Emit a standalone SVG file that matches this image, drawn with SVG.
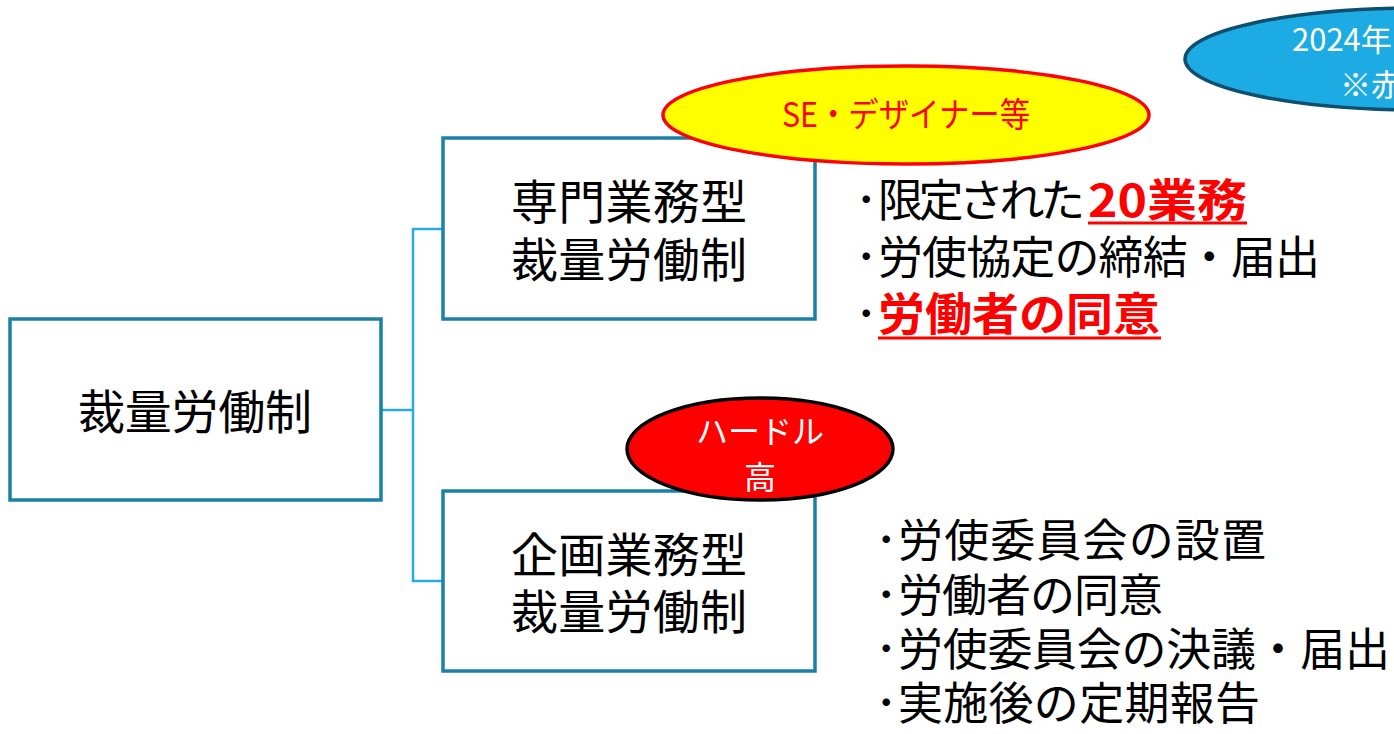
<svg xmlns="http://www.w3.org/2000/svg" width="1394" height="734" viewBox="0 0 1394 734">
<style>
.box{fill:#fff;stroke:#1B80A8;stroke-width:3.5}
.conn{fill:none;stroke:#29ABE2;stroke-width:2.5}
.t{font-family:"Noto Sans CJK JP","Noto Sans",sans-serif;fill:#000}
.bt{font-size:47px;text-anchor:middle}
.li{font-size:45px}
.hi{fill:#FF0000;font-weight:bold}
</style>
<rect width="1394" height="734" fill="#fff"/>
<g id="connectors">
<path class="conn" d="M381 410H413M443 229H413V581H443"/>
</g>
<g id="root">
<rect class="box" x="10" y="319" width="371" height="181"/>
<text class="t bt" x="195" y="429" textLength="234" lengthAdjust="spacing">裁量労働制</text>
</g>
<g id="senmon">
<rect class="box" x="443" y="138" width="372" height="181"/>
<text class="t bt" x="629" y="219" textLength="236" lengthAdjust="spacing">専門業務型</text>
<text class="t bt" x="629" y="277" textLength="236" lengthAdjust="spacing">裁量労働制</text>
</g>
<g id="kikaku">
<rect class="box" x="443" y="491" width="372" height="180"/>
<text class="t bt" x="629" y="572" textLength="236" lengthAdjust="spacing">企画業務型</text>
<text class="t bt" x="629" y="629" textLength="236" lengthAdjust="spacing">裁量労働制</text>
</g>
<g id="se-label">
<ellipse cx="906" cy="115" rx="243" ry="49" fill="#FFFF00" stroke="#FF0000" stroke-width="3.5"/>
<text class="t" x="906" y="127" font-size="34" text-anchor="middle" textLength="248" lengthAdjust="spacingAndGlyphs" style="fill:#FF0000">SE・デザイナー等</text>
</g>
<g id="hurdle-label">
<ellipse cx="760" cy="449" rx="133" ry="51" fill="#FF0000" stroke="#000" stroke-width="3.5"/>
<text class="t" x="760" y="443" font-size="32" text-anchor="middle" style="fill:#fff">ハードル</text>
<text class="t" x="760" y="489" font-size="32" text-anchor="middle" style="fill:#fff">高</text>
</g>
<g id="note-label">
<ellipse cx="1420" cy="59" rx="235" ry="51" fill="#1CACE3" stroke="#0E4E6E" stroke-width="3.5"/>
<text class="t" x="1292" y="51" font-size="31" style="fill:#fff">2024年</text>
<text class="t" x="1340" y="96" font-size="31" style="fill:#fff">※赤</text>
</g>
<g id="senmon-points">
<text class="t li" y="217"><tspan x="855">･</tspan><tspan x="878" textLength="207" lengthAdjust="spacing">限定された</tspan><tspan class="hi" x="1088" textLength="159" lengthAdjust="spacingAndGlyphs">20業務</tspan></text>
<line x1="1088" y1="223" x2="1247" y2="223" stroke="#FF0000" stroke-width="3"/>
<text class="t li" y="274"><tspan x="855">･</tspan><tspan x="878" textLength="442" lengthAdjust="spacing">労使協定の締結・届出</tspan></text>
<text class="t li" y="331"><tspan x="855">･</tspan><tspan class="hi" x="878" textLength="282" lengthAdjust="spacingAndGlyphs">労働者の同意</tspan></text>
<line x1="878" y1="338" x2="1161" y2="338" stroke="#FF0000" stroke-width="3"/>
</g>
<g id="kikaku-points">
<text class="t li" y="557"><tspan x="875">･</tspan><tspan x="898" textLength="368" lengthAdjust="spacing">労使委員会の設置</tspan></text>
<text class="t li" y="612"><tspan x="875">･</tspan><tspan x="898" textLength="265" lengthAdjust="spacing">労働者の同意</tspan></text>
<text class="t li" y="666"><tspan x="875">･</tspan><tspan x="898" textLength="492" lengthAdjust="spacing">労使委員会の決議・届出</tspan></text>
<text class="t li" y="720"><tspan x="875">･</tspan><tspan x="898" textLength="362" lengthAdjust="spacing">実施後の定期報告</tspan></text>
</g>
</svg>
